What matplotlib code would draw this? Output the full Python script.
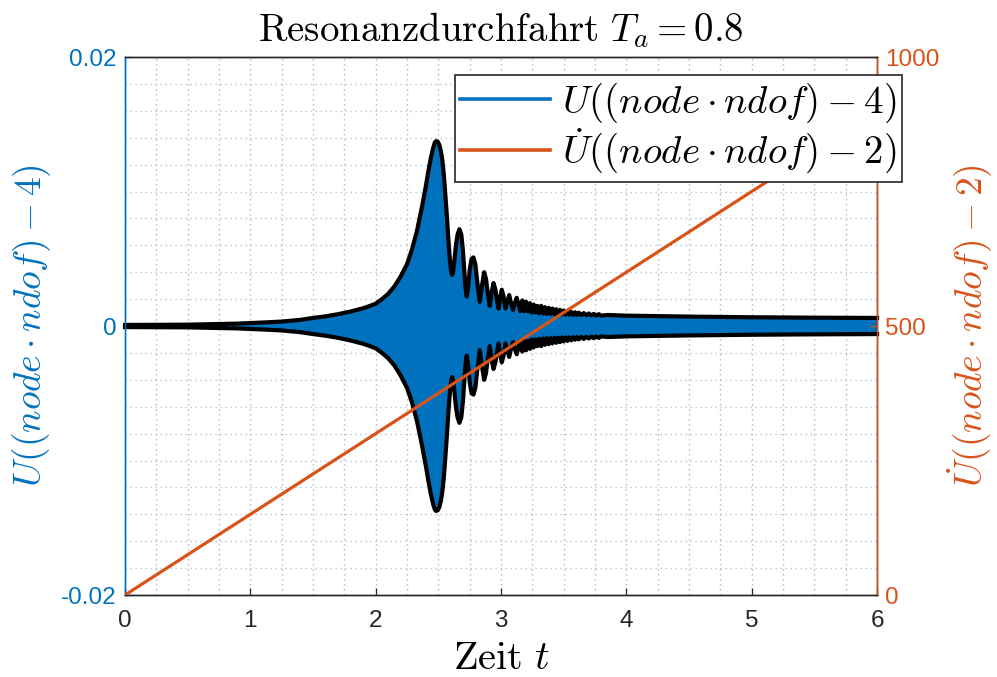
import matplotlib
matplotlib.use("Agg")
import matplotlib.pyplot as plt
from matplotlib.lines import Line2D
from matplotlib.ticker import MultipleLocator
import numpy as np

plt.rcParams['mathtext.fontset'] = 'cm'
plt.rcParams['font.family'] = ['Liberation Sans', 'DejaVu Sans']

# upper envelope of U, lower envelope is the mirror
t_env = [0.0, 0.5, 0.9, 1.1, 1.25, 1.4, 1.5, 1.6, 1.7, 1.8, 1.9, 1.95, 2.0,
         2.05, 2.1, 2.15, 2.2, 2.25, 2.29, 2.33, 2.37, 2.40, 2.42, 2.44, 2.46,
         2.472, 2.482, 2.495, 2.508, 2.52, 2.532, 2.543, 2.553, 2.563, 2.572,
         2.58, 2.588, 2.596, 2.603, 2.61, 2.617, 2.627, 2.64, 2.653, 2.668,
         2.683, 2.696, 2.706, 2.716, 2.726, 2.737, 2.75, 2.765, 2.78, 2.795,
         2.81, 2.83, 2.848, 2.865, 2.88, 2.895, 2.91, 2.925, 2.94, 2.955, 2.97,
         2.98, 2.993, 3.006, 3.02, 3.035, 3.05, 3.065, 3.08, 3.095, 3.11, 3.125,
         3.14, 3.155, 3.17, 3.185, 3.20, 3.215, 3.23, 3.245, 3.26, 3.275, 3.29,
         3.305, 3.32, 3.335, 3.35, 3.365, 3.38, 3.395, 3.41, 3.425, 3.44, 3.455,
         3.47, 3.485, 3.5, 3.515, 3.53, 3.545, 3.56, 3.575, 3.59, 3.605, 3.62,
         3.64, 3.66, 3.68, 3.70, 3.72, 3.74, 3.76, 3.78, 3.80, 3.85, 4.0, 4.5,
         5.0, 5.5, 6.0]
u_env = [0.00008, 0.0001, 0.00018, 0.00026, 0.00033, 0.00046, 0.0006, 0.00072,
         0.00088, 0.00108, 0.00132, 0.00148, 0.00166, 0.002, 0.0024, 0.00295,
         0.0037, 0.0046, 0.0057, 0.0071, 0.0089, 0.0104, 0.0115, 0.0125, 0.0133,
         0.01365, 0.01375, 0.0137, 0.01346, 0.0130, 0.0123, 0.0113, 0.0101,
         0.0088, 0.0076, 0.0064, 0.0054, 0.0045, 0.0040, 0.0038, 0.0040, 0.0048,
         0.0060, 0.0068, 0.0072, 0.0068, 0.0056, 0.0042, 0.0029, 0.0022, 0.0028,
         0.0042, 0.0050, 0.0051, 0.0046, 0.0033, 0.0018, 0.0030, 0.0040, 0.0035,
         0.0024, 0.0015, 0.0025, 0.0032, 0.0027, 0.0018, 0.0013, 0.0021, 0.0027,
         0.0022, 0.0013, 0.0018, 0.0023, 0.0017, 0.0012, 0.0017, 0.0021, 0.0016,
         0.0011, 0.0019, 0.0011, 0.0018, 0.0011, 0.0017, 0.0010, 0.0016, 0.0010,
         0.0015, 0.00095, 0.0015, 0.00093, 0.0014, 0.0009, 0.00135, 0.0009,
         0.0013, 0.00088, 0.00125, 0.00087, 0.0012, 0.00086, 0.00115, 0.00085,
         0.0011, 0.00084, 0.00106, 0.00083, 0.00102, 0.00082, 0.00099, 0.00081,
         0.00096, 0.0008, 0.00093, 0.00079, 0.0009, 0.00078, 0.00088, 0.00077,
         0.00082, 0.00077, 0.0007, 0.00065, 0.00062, 0.0006]

# velocity (right axis), straight line
t_vel = [0.0, 6.0]
v_vel = [0.0, 900.0]

x_ticks = [0, 1, 2, 3, 4, 5, 6]
yl_ticks = [-0.02, 0, 0.02]
yl_labels = ['-0.02', '0', '0.02']
yr_ticks = [0, 500, 1000]

blue = '#0072BD'
orange = '#D95319'
dark = '#262626'

fig = plt.figure(figsize=(9.97, 6.77), dpi=100)
ax = fig.add_axes([0.1254, 0.1211, 0.7543, 0.7947])

u_up = np.array(u_env)
ax.fill_between(t_env, -u_up, u_up, color=blue, lw=0, zorder=2)
for sgn in (1, -1):
    ax.plot(t_env, sgn * u_up, color='k', lw=3.0, zorder=3,
            solid_joinstyle='round', solid_capstyle='projecting', clip_on=False)

ax.set_xlim(0, 6)
ax.set_ylim(-0.02, 0.02)
ax.set_xticks(x_ticks)
ax.set_xticklabels([str(v) for v in x_ticks])
ax.set_yticks(yl_ticks)
ax.set_yticklabels(yl_labels)
ax.xaxis.set_minor_locator(MultipleLocator(0.25))
ax.yaxis.set_minor_locator(MultipleLocator(0.002))
ax.set_axisbelow(True)
ax.grid(which='both', axis='x', color='#b4b4b4', ls=(0, (1, 2.6)), lw=1.0)
ax.grid(which='both', axis='y', color='#a6cbe6', ls=(0, (1, 2.6)), lw=1.0)
ax.tick_params(which='minor', length=0)
ax.tick_params(axis='x', direction='in', length=5, width=0.9, colors=dark,
               labelsize=17.5, pad=10.5)
ax.tick_params(axis='y', direction='in', length=5, width=0.9, colors=blue,
               labelsize=17.5, pad=6)
ax.spines['left'].set_color(blue)
for s in ('top', 'bottom'):
    ax.spines[s].set_color(dark)
for s in ax.spines.values():
    s.set_linewidth(1.0)

ax.set_xlabel(r'$\mathrm{Zeit}\ t$', fontsize=29, labelpad=5)
ax.set_ylabel(r'$U((node \cdot ndof) - 4)$', fontsize=27, color=blue, labelpad=6)
ax.set_title(r'$\mathrm{Resonanzdurchfahrt}\ T_a = 0.8$', fontsize=28, pad=11)

ax2 = ax.twinx()
ax2.plot(t_vel, v_vel, color=orange, lw=2.3, zorder=4)
ax2.set_ylim(0, 1000)
ax2.set_yticks(yr_ticks)
ax2.set_yticklabels([str(v) for v in yr_ticks])
ax2.tick_params(axis='y', direction='in', length=5, width=0.9, colors=orange,
                labelsize=17.5, pad=6)
ax2.spines['right'].set_color(orange)
ax2.spines['left'].set_color(blue)
for s in ('top', 'bottom'):
    ax2.spines[s].set_color(dark)
for s in ax2.spines.values():
    s.set_linewidth(1.0)
ax2.set_ylabel(r'$\dot{U}((node \cdot ndof) - 2)$', fontsize=27, color=orange,
               labelpad=4)

handles = [Line2D([], [], color=blue, lw=2.6), Line2D([], [], color=orange, lw=2.6)]
labels = [r'$U((node \cdot ndof) - 4)$', r'$\dot{U}((node \cdot ndof) - 2)$']
leg = ax2.legend(handles, labels, loc='upper right',
                 bbox_to_anchor=(902 / 997, 1 - 75 / 677),
                 bbox_transform=fig.transFigure, fontsize=28, fancybox=False,
                 framealpha=1, edgecolor=dark, borderpad=0.15, handlelength=2.3,
                 handletextpad=0.3, labelspacing=0.05, borderaxespad=0)
leg.get_frame().set_linewidth(1.2)

fig.savefig('out.png', dpi=100)
